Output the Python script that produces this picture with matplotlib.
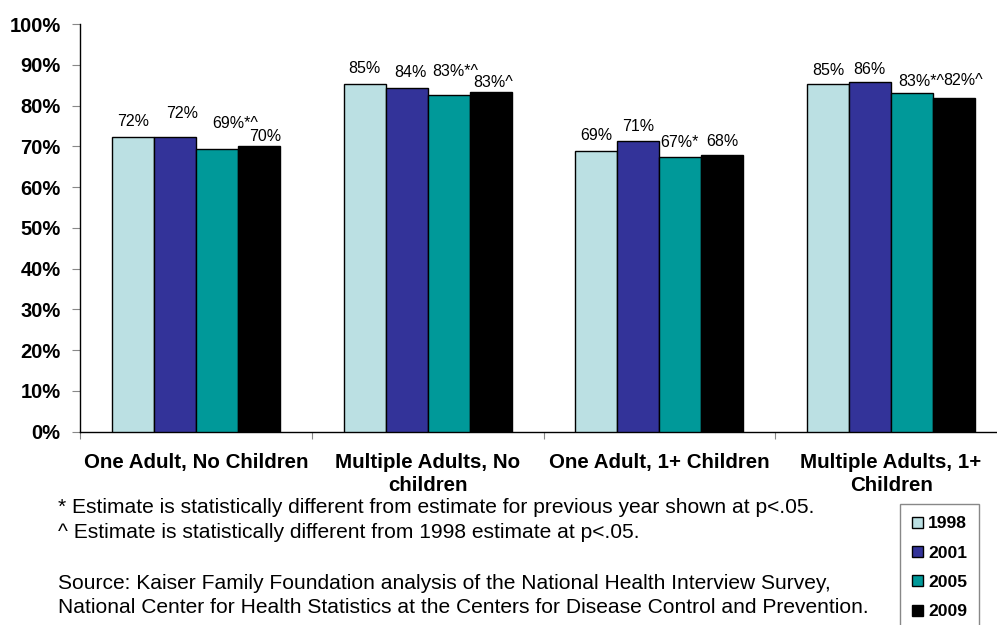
import matplotlib
matplotlib.use('Agg')
import matplotlib.pyplot as plt
import numpy as np
from matplotlib.patches import Patch

plt.rcParams['font.family'] = ['Liberation Sans', 'DejaVu Sans']

# カテゴリと年ごとの値
categories = ['One Adult, No Children', 'Multiple Adults, No\nchildren',
              'One Adult, 1+ Children', 'Multiple Adults, 1+\nChildren']
years = ['1998', '2001', '2005', '2009']
values = {
    '1998': [72.3, 85.3, 68.9, 85.4],
    '2001': [72.2, 84.3, 71.2, 85.8],
    '2005': [69.4, 82.7, 67.3, 83.0],
    '2009': [70.1, 83.4, 67.8, 81.9],
}
# 有意差の記号
flags = {
    '1998': ['', '', '', ''],
    '2001': ['', '', '', ''],
    '2005': ['*^', '*^', '*', '*^'],
    '2009': ['', '^', '', '^'],
}
colors = ['#BBE0E3', '#333399', '#009999', '#000000']

# ラベル位置の微調整 (ピクセル)
label_offsets = [
    [(0, 15), (0, 15), (0, 15), (0, 13)],
    [(7, 24), (4, 16), (0, 15), (-1, 12)],
    [(18, 25), (7, 23), (-1, 15), (9, 12)],
    [(6, 9), (3, 9), (0, 14), (9, 17)],
]

fig = plt.figure(figsize=(9.97, 6.25), dpi=100)
ax = fig.add_axes([80 / 997, 1 - 431.7 / 625, 927 / 997, 407.7 / 625])

x = np.arange(len(categories))
w = 0.181
for i, yr in enumerate(years):
    pos = x + (i - 1.5) * w
    bars = ax.bar(pos, values[yr], width=w, color=colors[i],
                  edgecolor='black', linewidth=1.0, zorder=3)
    for j, b in enumerate(bars):
        txt = '%d%%%s' % (round(values[yr][j]), flags[yr][j])
        ax.annotate(txt, (b.get_x() + b.get_width() / 2, b.get_height()),
                    xytext=label_offsets[i][j], textcoords='offset pixels',
                    ha='center', va='center', fontsize=11.5)

ax.set_xlim(-0.5, 3.5)
ax.set_ylim(0, 100)
ax.set_yticks(np.arange(0, 101, 10))
ax.set_yticklabels(['%d%%' % v for v in range(0, 101, 10)],
                   fontsize=14.5, fontweight='bold')
ax.tick_params(axis='y', length=6, color='#888888', pad=8)

# カテゴリ境界の目盛りとカテゴリ名
ax.set_xticks([-0.5, 0.5, 1.5, 2.5])
ax.set_xticklabels([])
ax.tick_params(axis='x', which='major', length=5, color='#888888')
ax.set_xticks(x, minor=True)
ax.set_xticklabels(categories, minor=True, fontsize=14.8,
                   fontweight='bold', linespacing=1.28)
ax.tick_params(axis='x', which='minor', length=0, pad=15)

for s in ['top', 'right']:
    ax.spines[s].set_visible(False)
ax.spines['left'].set_linewidth(1.0)
ax.spines['bottom'].set_linewidth(1.0)

# 注記と出典
notes = [
    (513, '* Estimate is statistically different from estimate for previous year shown at p<.05.'),
    (538, '^ Estimate is statistically different from 1998 estimate at p<.05.'),
    (589, 'Source: Kaiser Family Foundation analysis of the National Health Interview Survey,'),
    (613, 'National Center for Health Statistics at the Centers for Disease Control and Prevention.'),
]
for ypix, t in notes:
    fig.text(58 / 997, 1 - ypix / 625, t, fontsize=15.1, ha='left', va='baseline')

handles = [Patch(facecolor=c, edgecolor='black', linewidth=1.0) for c in colors]
leg = fig.legend(handles, years, loc='upper left',
                 bbox_to_anchor=(900 / 997, 1 - 504 / 625),
                 prop={'size': 12.6, 'weight': 'bold'},
                 handlelength=0.6, handleheight=0.6, handletextpad=0.3,
                 labelspacing=0.82, borderpad=0.7, borderaxespad=0,
                 fancybox=False, framealpha=1)
leg.get_frame().set_edgecolor('#888888')
leg.get_frame().set_linewidth(1.0)

fig.savefig('out.png', dpi=100)
